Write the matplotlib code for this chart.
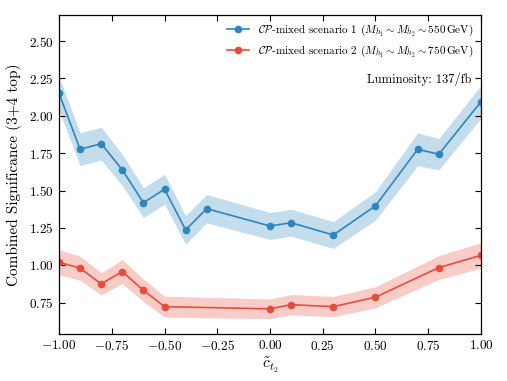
import matplotlib
matplotlib.use("Agg")
import matplotlib.pyplot as plt
import numpy as np

plt.rcParams['font.family'] = 'serif'
plt.rcParams['font.serif'] = ['cmr10']
plt.rcParams['mathtext.fontset'] = 'cm'
plt.rcParams['axes.formatter.use_mathtext'] = True

x1 = [-1.0, -0.9, -0.8, -0.7, -0.6, -0.5, -0.4, -0.3, 0.0, 0.1, 0.3, 0.5, 0.7, 0.8, 1.0]
s1 = [2.15, 1.776, 1.814, 1.638, 1.419, 1.509, 1.237, 1.379, 1.263, 1.285, 1.203, 1.398, 1.776, 1.743, 2.094]
e1 = [0.115, 0.11, 0.11, 0.105, 0.1, 0.1, 0.095, 0.095, 0.09, 0.09, 0.09, 0.095, 0.11, 0.105, 0.11]

x2 = [-1.0, -0.9, -0.8, -0.7, -0.6, -0.5, 0.0, 0.1, 0.3, 0.5, 0.8, 1.0]
s2 = [1.021, 0.981, 0.876, 0.958, 0.833, 0.724, 0.709, 0.737, 0.724, 0.787, 0.985, 1.067]
e2 = [0.085, 0.08, 0.075, 0.08, 0.075, 0.07, 0.066, 0.068, 0.068, 0.07, 0.08, 0.085]

label1 = r'$\mathcal{CP}$-mixed scenario 1 ($M_{h_1} \sim M_{h_2} \sim 550\,\mathrm{GeV}$)'
label2 = r'$\mathcal{CP}$-mixed scenario 2 ($M_{h_1} \sim M_{h_2} \sim 750\,\mathrm{GeV}$)'
blue = '#2E86C1'
red = '#E74C3C'

fig = plt.figure(figsize=(5.07, 3.81), dpi=100)
ax = fig.add_axes([0.1164, 0.1234, 0.8323, 0.8372])

a1, b1, c1 = np.array(x1), np.array(s1), np.array(e1)
a2, b2, c2 = np.array(x2), np.array(s2), np.array(e2)
ax.fill_between(a1, b1 - c1, b1 + c1, color=blue, alpha=0.28, lw=0)
ax.plot(a1, b1, '-o', color=blue, lw=1.2, ms=4.5, label=label1)
ax.fill_between(a2, b2 - c2, b2 + c2, color=red, alpha=0.28, lw=0)
ax.plot(a2, b2, '-o', color=red, lw=1.2, ms=4.5, label=label2)

ax.set_xlim(-1.0, 1.0)
ax.set_ylim(0.541, 2.674)
ax.set_xticks([-1.0, -0.75, -0.5, -0.25, 0.0, 0.25, 0.5, 0.75, 1.0])
ax.set_yticks([0.75, 1.0, 1.25, 1.5, 1.75, 2.0, 2.25, 2.5])
ax.xaxis.set_major_formatter(matplotlib.ticker.FormatStrFormatter('$%.2f$'))
ax.yaxis.set_major_formatter(matplotlib.ticker.FormatStrFormatter('$%.2f$'))
ax.tick_params(direction='in', top=True, right=True, length=4, width=0.8, labelsize=9.5)
for sp in ax.spines.values():
    sp.set_linewidth(0.9)

ax.set_xlabel(r'$\tilde{c}_{t_2}$', fontsize=11, labelpad=2)
ax.set_ylabel('Combined Significance (3+4 top)', fontsize=11, labelpad=5)

ax.legend(loc='upper right', frameon=False, fontsize=8, handlelength=2.0,
          borderaxespad=0.3, labelspacing=0.45)
ax.text(0.978, 0.80, 'Luminosity: 137/fb', transform=ax.transAxes,
        ha='right', va='center', fontsize=8.9)

fig.savefig('out.png', dpi=100)
